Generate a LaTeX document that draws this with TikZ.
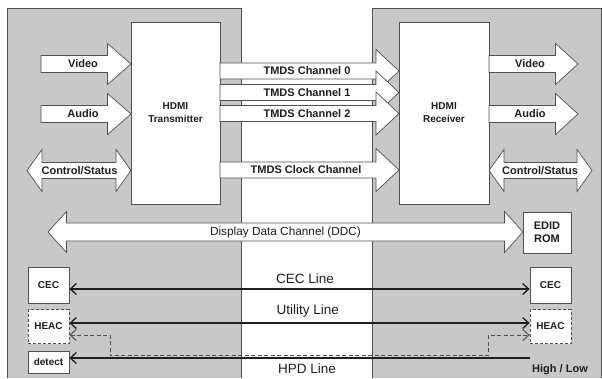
\documentclass[tikz,border=0pt]{standalone}
\usepackage{fontspec}
\setmainfont{Liberation Sans}
\usetikzlibrary{arrows.meta}
\definecolor{panelgrey}{HTML}{C8C8C8}
\definecolor{edgegrey}{HTML}{505050}
\definecolor{inkc}{HTML}{1E1E1E}
\newcommand\sarrow[6]{% tail x, tip x, y, shaft half, head half, head length
  \filldraw[blockarrow] (#1,#3-#4) -- (#2-#6,#3-#4) -- (#2-#6,#3-#5) -- (#2,#3)
    -- (#2-#6,#3+#5) -- (#2-#6,#3+#4) -- (#1,#3+#4) -- cycle;}
\newcommand\darrow[6]{% left tip, right tip, y, shaft half, head half, head length
  \filldraw[blockarrow] (#1,#3) -- (#1+#6,#3-#5) -- (#1+#6,#3-#4) -- (#2-#6,#3-#4)
    -- (#2-#6,#3-#5) -- (#2,#3) -- (#2-#6,#3+#5) -- (#2-#6,#3+#4)
    -- (#1+#6,#3+#4) -- (#1+#6,#3+#5) -- cycle;}
\begin{document}
\begin{tikzpicture}[x=1pt,y=-1pt,
  panel/.style={fill=panelgrey},
  paneledge/.style={draw=edgegrey,line width=0.9pt},
  chip/.style={draw=edgegrey,fill=white,line width=0.8pt,inner sep=0pt,align=center,
    font=\fontsize{10}{13}\selectfont\bfseries,text=inkc},
  smallbox/.style={draw=edgegrey,fill=white,line width=0.8pt,inner sep=0pt,
    minimum width=41pt,font=\fontsize{10}{12}\selectfont\bfseries,text=inkc},
  dashbox/.style={smallbox,dashed,dash pattern=on 3pt off 2pt},
  blockarrow/.style={draw=edgegrey,fill=white,line width=0.7pt,line join=miter},
  alabel/.style={font=\fontsize{11}{13}\selectfont\bfseries,text=inkc,inner sep=0pt},
  ddclabel/.style={font=\fontsize{11.8}{13}\selectfont,text=inkc,inner sep=0pt},
  linelabel/.style={font=\fontsize{13.5}{15}\selectfont,text=inkc,inner sep=0pt},
  sigline/.style={draw=inkc,line width=1.4pt,
    arrows={Straight Barb[length=6pt,width=11pt,line width=1.3pt]-Straight Barb[length=6pt,width=11pt,line width=1.3pt]}},
  hpdline/.style={draw=inkc,line width=1.4pt,
    arrows={Straight Barb[length=6pt,width=11pt,line width=1.3pt]-}},
  dashline/.style={draw=edgegrey,line width=1pt,dash pattern=on 4pt off 2.5pt,
    arrows={Straight Barb[length=6pt,width=11pt,line width=1pt]-Straight Barb[length=6pt,width=11pt,line width=1pt]}}
]
\useasboundingbox (0,0) rectangle (602,378);
\fill[white] (0,0) rectangle (602,378);
% panels
\fill[panel] (7,8) rectangle (241,378);
\draw[paneledge] (7,378) -- (7,8) -- (241,8) -- (241,378);
\fill[panel] (372,8) rectangle (601,378);
\draw[paneledge] (372,378) -- (372,8) -- (601,8) -- (601,378);

% chips
\node[chip,minimum width=89pt,minimum height=182pt] (TX) at (175.5,113) {HDMI\\Transmitter};
\node[chip,minimum width=90pt,minimum height=182pt] (RX) at (444,113) {HDMI\\Receiver};

% left side block arrows
\sarrow{41}{131}{64}{8.5}{20.5}{23.5}
\node[alabel] (vinL) at (83,64) {Video};
\sarrow{41}{131}{114}{8.5}{20.5}{23.5}
\node[alabel] (ainL) at (83,114) {Audio};
\darrow{27}{131}{170.5}{8}{21}{15}
\node[alabel] (csL) at (79.5,170.5) {Control/Status};

% right side block arrows
\sarrow{489}{578}{64}{8.5}{20.5}{22.5}
\node[alabel] (voutR) at (530,64) {Video};
\sarrow{489}{578}{114}{8.5}{20.5}{22.5}
\node[alabel] (aoutR) at (530,114) {Audio};
\darrow{489}{592}{170.5}{8}{21}{15}
\node[alabel] (csR) at (540,170.5) {Control/Status};

% TMDS arrows
\sarrow{220}{399}{71}{8}{21.5}{23}
\node[alabel] (t0) at (307,71) {TMDS Channel 0};
\sarrow{220}{399}{92.5}{8}{21.5}{23}
\node[alabel] (t1) at (307,92.5) {TMDS Channel 1};
\sarrow{220}{399}{113.5}{8}{21.5}{23}
\node[alabel] (t2) at (307,113.5) {TMDS Channel 2};
\sarrow{220}{399}{170}{8}{21.5}{23}
\node[alabel] (tc) at (306,170) {TMDS Clock Channel};

% DDC
\darrow{48}{523}{232}{9}{20.5}{18.5}
\node[ddclabel] (ddc) at (285.5,232) {Display Data Channel (DDC)};
\node[chip,minimum width=48pt,minimum height=41pt,font=\fontsize{11}{13}\selectfont\bfseries] (EDID) at (547,232.5) {EDID\\ROM};

% small boxes
\node[smallbox,minimum height=36pt] (CECL) at (48.5,285) {CEC};
\node[smallbox,minimum height=36pt] (CECR) at (550.5,285) {CEC};
\node[dashbox,minimum height=34pt] (HEACL) at (48.5,326.5) {HEAC};
\node[dashbox,minimum height=34pt] (HEACR) at (550.5,326.5) {HEAC};
\node[smallbox,minimum height=22pt] (DET) at (48.5,362) {detect};
\coordinate (HPDend) at (530,358);

% lines
\draw[sigline] ([yshift=-4pt]CECL.east) -- ([yshift=-4pt]CECR.west)
  node[linelabel,pos=0.512,above=5pt] (ceclbl) {CEC Line};
\draw[sigline] ([yshift=3.5pt]HEACL.east) -- ([yshift=3.5pt]HEACR.west)
  node[linelabel,pos=0.518,above=5pt] (utllbl) {Utility Line};
\draw[dashline] ([yshift=-8.5pt]HEACL.east) -- (110,335) -- (110,355.8)
  -- (488.3,355.8) -- (488.3,335) -- ([yshift=-8.5pt]HEACR.west);
\draw[hpdline] ([yshift=4pt]DET.east) -- (HPDend);
\node[linelabel] (hpdlbl) at (307,369) {HPD Line};
\node[alabel,font=\fontsize{11}{13}\selectfont\bfseries] (hilo) at (560,369.5) {High / Low};
\end{tikzpicture}
\end{document}
